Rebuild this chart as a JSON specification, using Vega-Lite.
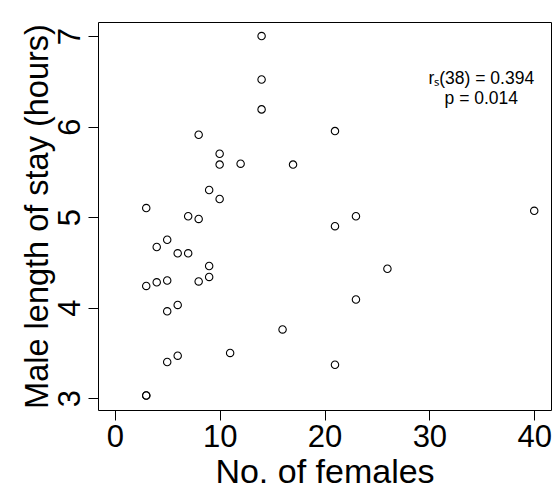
{
  "$schema": "https://vega.github.io/schema/vega-lite/v6.json",
  "width": 453,
  "height": 388,
  "autosize": {"type": "none"},
  "padding": {"left": 98, "top": 22, "right": 5, "bottom": 78},
  "config": {
    "view": {"stroke": "black", "strokeWidth": 1},
    "font": "Liberation Sans",
    "axis": {"labelColor": "black", "titleColor": "black", "tickColor": "black", "titleFontWeight": "normal"}
  },
  "layer": [
    {
      "data": {
        "values": [
          {"females": 14, "stay": 7.0},
          {"females": 14, "stay": 6.52},
          {"females": 14, "stay": 6.19},
          {"females": 8, "stay": 5.91},
          {"females": 21, "stay": 5.95},
          {"females": 10, "stay": 5.70},
          {"females": 10, "stay": 5.58},
          {"females": 12, "stay": 5.59},
          {"females": 17, "stay": 5.58},
          {"females": 9, "stay": 5.30},
          {"females": 10, "stay": 5.20},
          {"females": 3, "stay": 5.10},
          {"females": 7, "stay": 5.01},
          {"females": 8, "stay": 4.98},
          {"females": 21, "stay": 4.90},
          {"females": 23, "stay": 5.01},
          {"females": 40, "stay": 5.07},
          {"females": 5, "stay": 4.75},
          {"females": 4, "stay": 4.67},
          {"females": 6, "stay": 4.60},
          {"females": 7, "stay": 4.60},
          {"females": 9, "stay": 4.46},
          {"females": 26, "stay": 4.43},
          {"females": 3, "stay": 4.24},
          {"females": 4, "stay": 4.28},
          {"females": 5, "stay": 4.30},
          {"females": 8, "stay": 4.29},
          {"females": 9, "stay": 4.34},
          {"females": 23, "stay": 4.09},
          {"females": 5, "stay": 3.96},
          {"females": 6, "stay": 4.03},
          {"females": 16, "stay": 3.76},
          {"females": 11, "stay": 3.50},
          {"females": 5, "stay": 3.40},
          {"females": 6, "stay": 3.47},
          {"females": 21, "stay": 3.37},
          {"females": 3, "stay": 3.03},
          {"females": 3, "stay": 3.03}
        ]
      },
      "mark": {"type": "point", "shape": "circle", "filled": false, "color": "black", "size": 55, "strokeWidth": 1.1, "opacity": 1},
      "encoding": {
        "x": {
          "field": "females", "type": "quantitative",
          "scale": {"domain": [-1.6, 41.6], "nice": false, "zero": false},
          "axis": {"values": [0, 10, 20, 30, 40], "format": "d", "grid": false, "domain": false, "tickSize": 10, "labelFontSize": 31, "labelPadding": 2, "labelFlush": false, "title": "No. of females", "titleFontSize": 34, "titlePadding": 3}
        },
        "y": {
          "field": "stay", "type": "quantitative",
          "scale": {"domain": [2.87, 7.155], "nice": false, "zero": false},
          "axis": {"values": [3, 4, 5, 6, 7], "format": "d", "grid": false, "domain": false, "tickSize": 10, "labelFontSize": 31, "labelAngle": 270, "labelAlign": "center", "labelBaseline": "bottom", "labelPadding": 2, "title": "Male length of stay (hours)", "titleFontSize": 32.5, "titlePadding": 0}
        }
      }
    },
    {
      "data": {
        "values": [
          {"x": 34.95, "y": 6.52, "label": "rₛ(38) = 0.394"},
          {"x": 34.95, "y": 6.31, "label": "p = 0.014"}
        ]
      },
      "mark": {"type": "text", "fontSize": 17.5, "align": "center", "baseline": "middle", "color": "black"},
      "encoding": {
        "x": {"field": "x", "type": "quantitative"},
        "y": {"field": "y", "type": "quantitative"},
        "text": {"field": "label"}
      }
    }
  ]
}
